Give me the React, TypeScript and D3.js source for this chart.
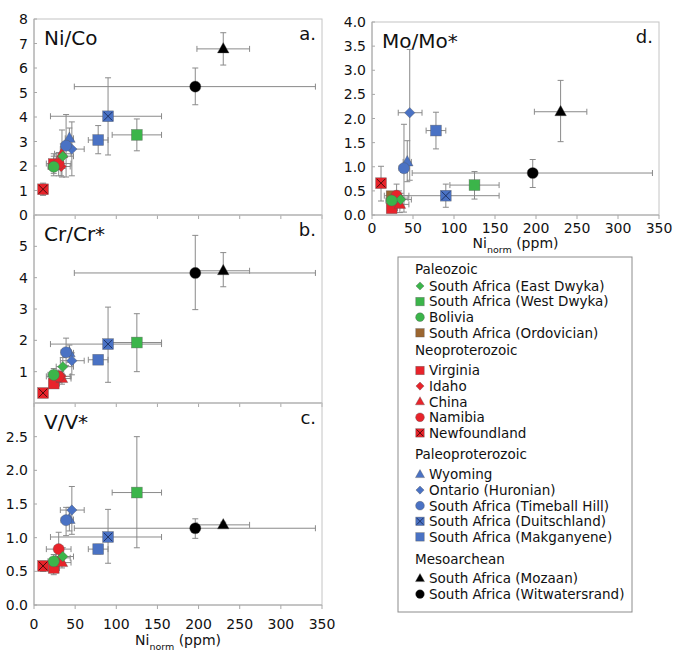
import React from 'react';
import * as d3 from 'd3';

// ---------- DATA ----------
const seriesNames = [
  'South Africa (East Dwyka)',
  'South Africa (West Dwyka)',
  'Bolivia',
  'South Africa (Ordovician)',
  'Virginia',
  'Idaho',
  'China',
  'Namibia',
  'Newfoundland',
  'Wyoming',
  'Ontario (Huronian)',
  'South Africa (Timeball Hill)',
  'South Africa (Duitschland)',
  'South Africa (Makganyene)',
  'South Africa (Mozaan)',
  'South Africa (Witwatersrand)',
];
const seriesShapes = [
  'diamond', 'square', 'circle', 'square',
  'square', 'diamond', 'triangle', 'circle', 'squareX',
  'triangle', 'diamond', 'circle', 'squareX', 'square',
  'triangle', 'circle',
];
const seriesColors = [
  '#3bb54a', '#3bb54a', '#3bb54a', '#9b6630',
  '#e8232a', '#e8232a', '#e8232a', '#e8232a', '#e8232a',
  '#4a72c4', '#4a72c4', '#4a72c4', '#4a72c4', '#4a72c4',
  '#000000', '#000000',
];
const legendGroups = [
  { title: 'Paleozoic', items: [0, 1, 2, 3] },
  { title: 'Neoproterozoic', items: [4, 5, 6, 7, 8] },
  { title: 'Paleoproterozoic', items: [9, 10, 11, 12, 13] },
  { title: 'Mesoarchean', items: [14, 15] },
];

// Ni_norm (ppm) with error range
const niNorm = [35, 125, 24, 24, 24, 33, 34, 30, 11, 43, 46, 39, 90, 78, 230, 196];
const niNormLo = [27, 95, 17, null, 19, 26, 25, 15, null, 38, 32, 33, 20, 66, 198, 49];
const niNormHi = [48, 155, 31, null, 31, 44, 45, 45, null, 48, 61, 45, 155, 90, 262, 342];

// [value, low, high] per series; null = not plotted
const niCo = [
  [2.4, 1.9, 2.9], [3.27, 2.62, 3.92], [1.97, 1.6, 2.4], null,
  [2.08, 1.7, 2.5], [1.98, 1.6, 2.4], [2.5, 1.55, 3.47], [2.1, 1.6, 2.55], [1.05, 0.8, 1.3],
  [3.13, 2.7, 3.55], [2.69, 1.6, 3.8], [2.83, 1.55, 4.1], [4.03, 2.45, 5.6], [3.06, 2.5, 3.65],
  [6.78, 6.12, 7.44], [5.24, 4.5, 6.0],
];
const crCr = [
  [1.16, 0.9, 1.45], [1.93, 1.0, 2.85], [0.9, 0.7, 1.1], null,
  [0.62, 0.5, 0.75], [0.85, 0.7, 1.0], [0.78, 0.6, 0.95], [0.85, 0.65, 1.05], [0.32, 0.2, 0.45],
  [1.6, 1.3, 1.85], [1.35, 0.9, 1.6], [1.62, 1.2, 2.07], [1.88, 0.66, 3.06], [1.38, 1.25, 1.5],
  [4.22, 3.71, 4.8], [4.15, 2.98, 5.35],
];
const vV = [
  [0.72, 0.6, 0.85], [1.67, 0.85, 2.5], [0.65, 0.55, 0.75], null,
  [0.55, 0.45, 0.65], [0.7, 0.6, 0.8], [0.63, 0.55, 0.7], [0.83, 0.6, 1.08], [0.58, 0.5, 0.65],
  [1.27, 1.1, 1.45], [1.41, 1.05, 1.76], [1.26, 1.03, 1.45], [1.01, 0.62, 1.42], [0.83, 0.76, 0.9],
  [1.19, 1.15, 1.23], [1.14, 0.99, 1.28],
];
const moMo = [
  [0.32, 0.2, 0.45], [0.62, 0.33, 0.9], [0.3, 0.15, 0.45], [0.39, 0.39, 0.39],
  [0.14, 0.05, 0.25], [0.35, 0.2, 0.5], [0.22, 0.05, 0.4], [0.4, 0.2, 0.64], [0.66, 0.29, 1.01],
  [1.1, 0.69, 1.54], [2.12, 0.72, 3.43], [0.97, 0.06, 1.88], [0.4, 0.16, 0.64], [1.75, 1.37, 2.13],
  [2.14, 1.52, 2.79], [0.87, 0.57, 1.15],
];

const xTicks = [0, 50, 100, 150, 200, 250, 300, 350];
const drawOrder = [15, 14, 13, 12, 1, 8, 3, 4, 5, 6, 7, 9, 10, 11, 0, 2];

// ---------- LAYOUT ----------
const FONT = '"DejaVu Sans", Verdana, sans-serif';
const panels = [
  { title: 'Ni/Co', tag: 'a.', data: niCo, x0: 34, x1: 322, y0: 19, y1: 215, ymax: 8, yTicks: [0, 1, 2, 3, 4, 5, 6, 7, 8], fmt: d3.format('d'), showX: false, tickOff: 23, titleOff: 40 },
  { title: 'Cr/Cr*', tag: 'b.', data: crCr, x0: 34, x1: 322, y0: 215, y1: 403, ymax: 6, yTicks: [1, 2, 3, 4, 5], fmt: d3.format('d'), showX: false, tickOff: 23, titleOff: 40 },
  { title: 'V/V*', tag: 'c.', data: vV, x0: 34, x1: 322, y0: 403, y1: 605, ymax: 3, yTicks: [0, 0.5, 1, 1.5, 2, 2.5], fmt: d3.format('.1f'), showX: true, tickOff: 24, titleOff: 40 },
  { title: 'Mo/Mo*', tag: 'd.', data: moMo, x0: 372, x1: 659, y0: 22, y1: 215, ymax: 4, yTicks: [0, 0.5, 1, 1.5, 2, 2.5, 3, 3.5, 4], fmt: d3.format('.1f'), showX: true, tickOff: 18, titleOff: 33 },
];

function Marker({ shape, color, cx, cy, s = 1 }: any) {
  const stroke = '#555';
  const sw = 0.6;
  if (shape === 'circle') {
    return <circle cx={cx} cy={cy} r={5.6 * s} fill={color} stroke={stroke} strokeWidth={sw} strokeOpacity={0.6} />;
  }
  if (shape === 'square' || shape === 'squareX') {
    const h = 5.4 * s;
    return (
      <g>
        <rect x={cx - h} y={cy - h} width={2 * h} height={2 * h} fill={color} stroke={stroke} strokeWidth={sw} strokeOpacity={0.6} />
        {shape === 'squareX' && (
          <path d={`M${cx - h * 0.8},${cy - h * 0.8}L${cx + h * 0.8},${cy + h * 0.8}M${cx + h * 0.8},${cy - h * 0.8}L${cx - h * 0.8},${cy + h * 0.8}`}
            stroke={color === '#e8232a' ? '#3a0a0a' : '#1b2d5a'} strokeWidth={0.9} />
        )}
      </g>
    );
  }
  if (shape === 'diamond') {
    const h = 5.2 * s;
    return <path d={`M${cx},${cy - h}L${cx + h},${cy}L${cx},${cy + h}L${cx - h},${cy}Z`} fill={color} stroke={stroke} strokeWidth={sw} strokeOpacity={0.6} />;
  }
  // triangle
  const w = 5.8 * s;
  return <path d={`M${cx},${cy - 6.4 * s}L${cx + w},${cy + 4 * s}L${cx - w},${cy + 4 * s}Z`} fill={color} stroke={stroke} strokeWidth={sw} strokeOpacity={0.6} />;
}

function Panel({ p }: any) {
  const x = d3.scaleLinear().domain([0, 350]).range([p.x0, p.x1]);
  const y = d3.scaleLinear().domain([0, p.ymax]).range([p.y1, p.y0]);
  const ebColor = '#8a8a8a';
  const cap = 3;
  return (
    <g>
      <rect x={p.x0} y={p.y0} width={p.x1 - p.x0} height={p.y1 - p.y0} fill="none" stroke="#c4c4c4" strokeWidth={1} />
      <line x1={p.x0} x2={p.x0} y1={p.y0} y2={p.y1} stroke="#a8a8a8" strokeWidth={1} />
      <line x1={p.x0} x2={p.x1} y1={p.y1} y2={p.y1} stroke="#a8a8a8" strokeWidth={1} />
      {p.yTicks.map((t: number) => (
        <g key={'y' + t}>
          <line x1={p.x0} x2={p.x0 + 3} y1={y(t)} y2={y(t)} stroke="#a8a8a8" />
          <text x={p.x0 - 6} y={y(t)} dy="0.36em" textAnchor="end" fontSize={14} fontFamily={FONT} fill="#111">{p.fmt(t)}</text>
        </g>
      ))}
      {xTicks.map((t) => (
        <line key={'xt' + t} x1={x(t)} x2={x(t)} y1={p.y1} y2={p.y1 + 4} stroke="#a8a8a8" />
      ))}
      {p.showX && xTicks.map((t) => (
        <text key={'xl' + t} x={x(t)} y={p.y1 + p.tickOff} textAnchor="middle" fontSize={14} fontFamily={FONT} fill="#111">{t}</text>
      ))}
      {p.showX && (
        <text x={(p.x0 + p.x1) / 2} y={p.y1 + p.titleOff} textAnchor="middle" fontSize={14} fontFamily={FONT} fill="#111">
          Ni<tspan fontSize={9.5} dy={5}>norm</tspan><tspan dy={-5}> (ppm)</tspan>
        </text>
      )}
      <text x={p.x0 + 10} y={p.y0 + 26} fontSize={20} fontFamily={FONT} fill="#111">{p.title}</text>
      <text x={p.x1 - 6} y={p.y0 + 21} textAnchor="end" fontSize={18} fontFamily={FONT} fill="#111">{p.tag}</text>
      {/* error bars */}
      {drawOrder.map((i) => {
        const v = p.data[i];
        if (!v) return null;
        const cx = x(niNorm[i]);
        const cy = y(v[0]);
        const parts = [];
        if (v[1] !== v[2]) {
          parts.push(<line key="v" x1={cx} x2={cx} y1={y(v[1])} y2={y(v[2])} stroke={ebColor} strokeWidth={1} />);
          parts.push(<line key="vc1" x1={cx - cap} x2={cx + cap} y1={y(v[1])} y2={y(v[1])} stroke={ebColor} strokeWidth={1} />);
          parts.push(<line key="vc2" x1={cx - cap} x2={cx + cap} y1={y(v[2])} y2={y(v[2])} stroke={ebColor} strokeWidth={1} />);
        }
        if (niNormLo[i] != null && niNormHi[i] != null) {
          const xl = x(niNormLo[i] as number);
          const xh = x(niNormHi[i] as number);
          parts.push(<line key="h" x1={xl} x2={xh} y1={cy} y2={cy} stroke={ebColor} strokeWidth={1} />);
          parts.push(<line key="hc1" x1={xl} x2={xl} y1={cy - cap} y2={cy + cap} stroke={ebColor} strokeWidth={1} />);
          parts.push(<line key="hc2" x1={xh} x2={xh} y1={cy - cap} y2={cy + cap} stroke={ebColor} strokeWidth={1} />);
        }
        return <g key={'e' + i}>{parts}</g>;
      })}
      {drawOrder.map((i) => {
        const v = p.data[i];
        if (!v) return null;
        return <Marker key={'m' + i} shape={seriesShapes[i]} color={seriesColors[i]} cx={x(niNorm[i])} cy={y(v[0])} />;
      })}
    </g>
  );
}

function Legend() {
  const lx = 398, ly = 257, lw = 234, lh = 355;
  const headingStart = [269.5, 350, 454, 559.5];
  const firstItem = [286, 370.5, 474.5, 578.5];
  const rowH = 15.6;
  return (
    <g>
      <rect x={lx} y={ly} width={lw} height={lh} fill="#fff" stroke="#8c8c8c" strokeWidth={1} />
      {legendGroups.map((g, gi) => (
        <g key={g.title}>
          <text x={415} y={headingStart[gi]} dy="0.36em" fontSize={13.5} fontFamily={FONT} fill="#111">{g.title}</text>
          {g.items.map((idx, k) => {
            const cy = firstItem[gi] + k * rowH;
            return (
              <g key={idx}>
                <Marker shape={seriesShapes[idx]} color={seriesColors[idx]} cx={420} cy={cy} s={0.78} />
                <text x={429} y={cy} dy="0.36em" fontSize={13.5} fontFamily={FONT} fill="#111">{seriesNames[idx]}</text>
              </g>
            );
          })}
        </g>
      ))}
    </g>
  );
}

export default function App() {
  return (
    <svg width={676} height={658} style={{ position: 'absolute', left: 0, top: 0, background: '#fff' }}>
      <rect width={676} height={658} fill="#fff" />
      {panels.map((p) => <Panel key={p.tag} p={p} />)}
      <Legend />
    </svg>
  );
}
